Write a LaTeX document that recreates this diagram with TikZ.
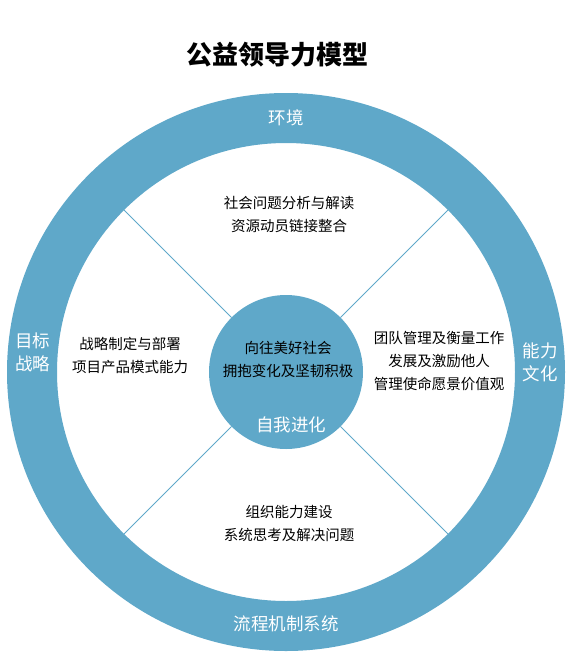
\documentclass[tikz,border=0pt]{standalone}
\usepackage{fontspec}
\setmainfont{Noto Sans CJK SC}
\usetikzlibrary{calc}
\definecolor{ringblue}{HTML}{5FA8C9}
\begin{document}
\begin{tikzpicture}[x=1pt,y=-1pt,
  inner/.style={font=\fontsize{14.5}{23}\selectfont, align=center, text=black},
  label/.style={font=\fontsize{17.5}{23}\selectfont, align=center, text=white},
  spoke/.style={draw=ringblue, line width=1pt}]
\useasboundingbox (0,0) rectangle (571,664);
\coordinate (c) at (286,372);
\fill[ringblue, even odd rule] (c) circle[radius=279] (c) circle[radius=229];
\fill[ringblue] (c) circle[radius=77] ;
\foreach \a/\n in {45/ne,135/nw,225/sw,315/se}{
  \coordinate (i\n) at ($(c)+(\a:77)$);
  \coordinate (o\n) at ($(c)+(\a:229)$);
  \draw[spoke] (i\n) -- (o\n);
}
\node[font=\bfseries\fontsize{26}{30}\selectfont] (title) at (277,55) {公益领导力模型};
\node[label] (top) at (286,118) {环境};
\node[label] (bottom) at (286,624) {流程机制系统};
\node[label] (left) at (33,352) {目标\\战略};
\node[label] (right) at (540,362) {能力\\文化};
\node[label] (self) at (291,425) {自我进化};
\node[inner] (ctext) at (288,359) {向往美好社会\\拥抱变化及坚韧积极};
\node[inner] (ttext) at (289,214) {社会问题分析与解读\\资源动员链接整合};
\node[inner] (ltext) at (130,355) {战略制定与部署\\项目产品模式能力};
\node[inner] (rtext) at (439,361) {团队管理及衡量工作\\发展及激励他人\\管理使命愿景价值观};
\node[inner] (btext) at (289,523) {组织能力建设\\系统思考及解决问题};
\end{tikzpicture}
\end{document}
